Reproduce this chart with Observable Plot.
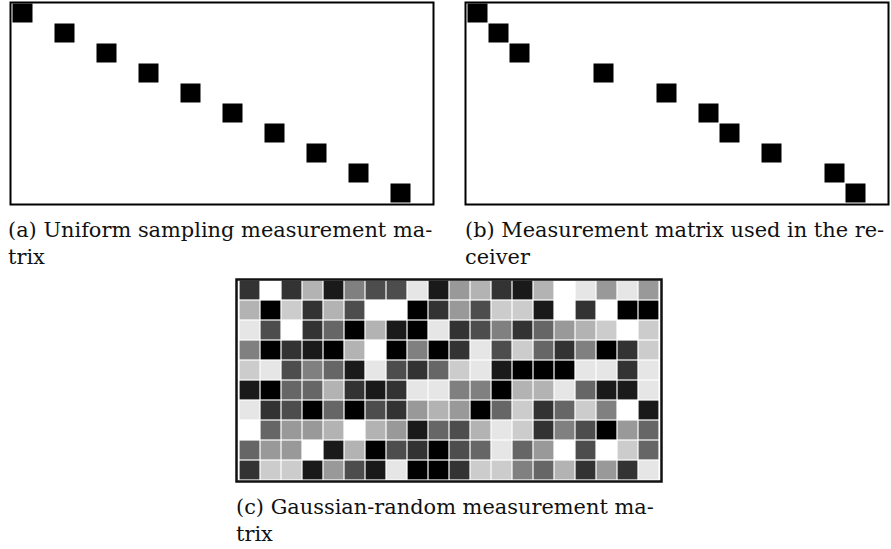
<!DOCTYPE html>
<html>
<head>
<meta charset="utf-8">
<script src="https://cdn.jsdelivr.net/npm/d3@7"></script>
<script src="https://cdn.jsdelivr.net/npm/@observablehq/plot@0.6"></script>
<style>
  html, body { margin: 0; padding: 0; background: #fff; }
  #root { position: relative; width: 891px; height: 549px; overflow: hidden; background: #fff; }
  .panel { position: absolute; }
  .cap { position: absolute; font-family: "DejaVu Serif", serif; font-size: 20.9px; line-height: 27px; color: #111; white-space: nowrap; }
</style>
</head>
<body>
<div id="root"></div>
<script>
// ---- data ----
const nRows = 10;
const nCols = 20;
// column of the single 1 in each row (rows 0..9)
const uniformCols = [0, 2, 4, 6, 8, 10, 12, 14, 16, 18];
const receiverCols = [0, 1, 2, 6, 9, 11, 12, 14, 17, 18];
// Gaussian-random matrix, quantised grey level 0 (black) .. 10 (white)
const gaussRow0 = [2, 10, 2, 7, 1, 5, 3, 3, 9, 1, 6, 7, 2, 1, 7, 10, 9, 6, 9, 6];
const gaussRow1 = [7, 0, 8, 2, 7, 3, 10, 10, 0, 2, 6, 3, 8, 8, 1, 10, 2, 10, 0, 0];
const gaussRow2 = [9, 3, 10, 2, 4, 0, 7, 1, 0, 9, 2, 3, 5, 2, 4, 6, 7, 8, 10, 8];
const gaussRow3 = [5, 0, 2, 1, 0, 7, 10, 0, 5, 0, 2, 9, 3, 8, 4, 2, 5, 0, 2, 8];
const gaussRow4 = [8, 9, 3, 5, 4, 1, 9, 3, 2, 4, 8, 9, 1, 0, 0, 0, 9, 9, 2, 9];
const gaussRow5 = [1, 0, 4, 4, 7, 2, 1, 2, 9, 9, 5, 5, 0, 7, 7, 9, 4, 1, 1, 9];
const gaussRow6 = [9, 2, 3, 0, 4, 0, 3, 2, 6, 7, 6, 0, 4, 8, 2, 4, 8, 5, 10, 1];
const gaussRow7 = [10, 4, 6, 6, 7, 10, 7, 6, 1, 4, 3, 7, 9, 8, 2, 5, 3, 0, 6, 4];
const gaussRow8 = [4, 6, 6, 10, 1, 7, 0, 3, 2, 0, 3, 4, 9, 4, 6, 10, 3, 10, 8, 4];
const gaussRow9 = [2, 8, 8, 1, 6, 3, 1, 9, 0, 0, 2, 8, 8, 5, 4, 7, 2, 6, 2, 9];
const captionA = ["(a) Uniform sampling measurement ma-", "trix"];
const captionB = ["(b) Measurement matrix used in the re-", "ceiver"];
const captionC = ["(c) Gaussian-random measurement ma-", "trix"];

// ---- build tables ----
const gaussRows = [gaussRow0, gaussRow1, gaussRow2, gaussRow3, gaussRow4,
                   gaussRow5, gaussRow6, gaussRow7, gaussRow8, gaussRow9];
const gaussData = gaussRows.flatMap((r, i) => r.map((v, j) => ({row: i, col: j, v})));
const uniformData = uniformCols.map((c, i) => ({row: i, col: c}));
const receiverData = receiverCols.map((c, i) => ({row: i, col: c}));

const root = document.getElementById("root");

function place(el, left, top) {
  el.classList.add("panel");
  el.style.left = left + "px";
  el.style.top = top + "px";
  root.appendChild(el);
}

function sparsePlot(data) {
  return Plot.plot({
    width: 427, height: 206,
    marginTop: 2, marginBottom: 2, marginLeft: 2, marginRight: 2,
    x: {type: "band", domain: d3.range(nCols), padding: 0, axis: null},
    y: {type: "band", domain: d3.range(nRows), padding: 0, axis: null},
    style: {background: "white"},
    marks: [
      Plot.cell(data, {x: "col", y: "row", fill: "black", inset: 0.5}),
      Plot.frame({stroke: "black", strokeWidth: 2})
    ]
  });
}

function caption(lines, left, top) {
  const d = document.createElement("div");
  d.className = "cap";
  d.style.left = left + "px";
  d.style.top = top + "px";
  d.innerHTML = lines.join("<br>");
  root.appendChild(d);
}

place(sparsePlot(uniformData), 8, 0);
place(sparsePlot(receiverData), 463, 0);

const gauss = Plot.plot({
  width: 429, height: 206,
  marginTop: 2, marginBottom: 2, marginLeft: 2, marginRight: 2,
  x: {type: "band", domain: d3.range(nCols), padding: 0, axis: null},
  y: {type: "band", domain: d3.range(nRows), padding: 0, axis: null},
  color: {type: "linear", domain: [0, 10], range: ["#000000", "#ffffff"], interpolate: "rgb"},
  style: {background: "white"},
  marks: [
    Plot.cell(gaussData, {x: "col", y: "row", fill: "v", inset: 0.6}),
    Plot.frame({stroke: "#111", strokeWidth: 2.5})
  ]
});
place(gauss, 234, 277);

caption(captionA, 8, 217);
caption(captionB, 465, 217);
caption(captionC, 236, 494);
</script>
</body>
</html>
